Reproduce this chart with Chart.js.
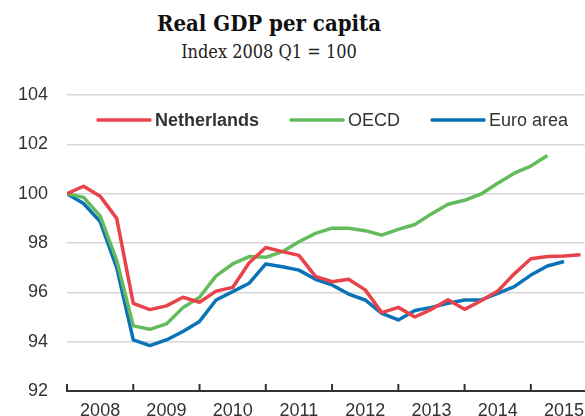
<!DOCTYPE html>
<html>
<head>
<meta charset="utf-8">
<script src="https://cdn.jsdelivr.net/npm/chart.js@4/dist/chart.umd.min.js"></script>
<style>
  html, body { margin: 0; padding: 0; background: #fff; overflow: hidden; }
  #wrap { position: relative; width: 585px; height: 416px; }
  #title { position: absolute; left: 0; top: 10px; width: 538px; text-align: center;
           font-family: 'DejaVu Serif Condensed', 'DejaVu Serif', serif; font-weight: bold; font-size: 22px; color: #111; }
  #subtitle { position: absolute; left: 0; top: 41px; width: 538px; text-align: center;
              font-family: 'DejaVu Serif Condensed', 'DejaVu Serif', serif; font-size: 18px; color: #222; }
  canvas { position: absolute; left: 0; top: 0; }
</style>
</head>
<body>
<div id="wrap">
  <div id="title">Real GDP per capita</div>
  <div id="subtitle">Index 2008 Q1 = 100</div>
  <canvas id="gdpChart" width="585" height="416"></canvas>
</div>
<script>
// quarters 2008 Q1 .. 2015 Q4
const quarters = [
  '2008 Q1', '2008 Q2', '2008 Q3', '2008 Q4',
  '2009 Q1', '2009 Q2', '2009 Q3', '2009 Q4',
  '2010 Q1', '2010 Q2', '2010 Q3', '2010 Q4',
  '2011 Q1', '2011 Q2', '2011 Q3', '2011 Q4',
  '2012 Q1', '2012 Q2', '2012 Q3', '2012 Q4',
  '2013 Q1', '2013 Q2', '2013 Q3', '2013 Q4',
  '2014 Q1', '2014 Q2', '2014 Q3', '2014 Q4',
  '2015 Q1', '2015 Q2', '2015 Q3', '2015 Q4',
];
const netherlands = [
  100.0, 100.3, 99.9, 99.0,
  95.55, 95.3, 95.45, 95.8,
  95.6, 96.05, 96.2, 97.2,
  97.82, 97.65, 97.5, 96.65,
  96.43, 96.53, 96.1, 95.18,
  95.39, 95.0, 95.31, 95.7,
  95.31, 95.66, 96.05, 96.75,
  97.36, 97.45, 97.47, 97.52,
];
const oecd = [
  100.0, 99.85, 99.1, 97.3,
  94.64, 94.5, 94.72, 95.38,
  95.8, 96.67, 97.15, 97.45,
  97.42, 97.65, 98.05, 98.39,
  98.6, 98.6, 98.5, 98.32,
  98.55, 98.75, 99.18, 99.57,
  99.73, 99.99, 100.42, 100.83,
  101.12, 101.55,
];
const euroArea = [
  100.0, 99.6, 98.87, 97.0,
  94.07, 93.84, 94.07, 94.41,
  94.82, 95.69, 96.03, 96.37,
  97.15, 97.04, 96.9, 96.53,
  96.3, 95.93, 95.69, 95.15,
  94.88, 95.26, 95.39, 95.56,
  95.69, 95.69, 95.96, 96.23,
  96.7, 97.07, 97.25,
];
const yTicks = [92, 94, 96, 98, 100, 102, 104];

const toPoints = values => values.map((v, i) => ({ x: i, y: v }));

const tickFont = { family: "'Liberation Sans Narrow', 'Liberation Sans', sans-serif", size: 18 };
const textColor = '#333';

// legend drawn inside the plot area, first entry in bold
const innerLegend = {
  id: 'innerLegend',
  afterDatasetsDraw(chart) {
    const ctx = chart.ctx;
    const area = chart.chartArea;
    const sample = 52, gap = 5, spacing = 32;
    let x = area.left + 31;
    const y = area.top + 25;
    ctx.save();
    chart.data.datasets.forEach((ds, i) => {
      ctx.strokeStyle = ds.borderColor;
      ctx.lineWidth = 3.5;
      ctx.lineCap = 'round';
      ctx.beginPath();
      ctx.moveTo(x, y);
      ctx.lineTo(x + sample, y);
      ctx.stroke();
      ctx.font = (i === 0 ? 'bold ' : '') + tickFont.size + 'px ' + tickFont.family;
      ctx.fillStyle = textColor;
      ctx.textBaseline = 'middle';
      ctx.textAlign = 'left';
      ctx.fillText(ds.label, x + sample + gap, y + 1);
      x += sample + gap + ctx.measureText(ds.label).width + spacing;
    });
    ctx.restore();
  }
};

// year tick marks pointing up from the x axis
const yearTicks = {
  id: 'yearTicks',
  afterDraw(chart) {
    const ctx = chart.ctx;
    const xs = chart.scales.x;
    const bottom = chart.chartArea.bottom;
    ctx.save();
    ctx.strokeStyle = textColor;
    ctx.lineWidth = 2;
    for (let q = 0; q < quarters.length; q += 4) {
      const px = xs.getPixelForValue(q);
      ctx.beginPath();
      ctx.moveTo(px, bottom);
      ctx.lineTo(px, bottom - 7);
      ctx.stroke();
    }
    ctx.restore();
  }
};

new Chart(document.getElementById('gdpChart'), {
  type: 'line',
  data: {
    datasets: [
      { label: 'Netherlands', data: toPoints(netherlands), borderColor: '#e8434b' },
      { label: 'OECD', data: toPoints(oecd), borderColor: '#64bb5c' },
      { label: 'Euro area', data: toPoints(euroArea), borderColor: '#0a73b7' },
    ]
  },
  options: {
    responsive: false,
    animation: false,
    devicePixelRatio: 1,
    layout: { padding: { top: 95, right: 0, left: 0, bottom: 0 } },
    elements: {
      line: { borderWidth: 3.5, tension: 0, borderJoinStyle: 'round', fill: false },
      point: { radius: 0 }
    },
    plugins: {
      legend: { display: false },
      tooltip: { enabled: false }
    },
    scales: {
      x: {
        type: 'linear',
        min: 0,
        max: 31.25,
        afterBuildTicks: scale => {
          const t = [];
          for (let q = 2; q < quarters.length; q += 4) t.push({ value: q });
          scale.ticks = t;
        },
        afterFit: scale => { scale.height = 25; },
        grid: { display: false },
        border: { display: true, color: textColor, width: 2 },
        ticks: {
          autoSkip: false,
          maxRotation: 0,
          padding: 1,
          color: textColor,
          font: tickFont,
          callback: v => quarters[v].slice(0, 4)
        }
      },
      y: {
        min: 92,
        max: 104,
        afterBuildTicks: scale => { scale.ticks = yTicks.map(v => ({ value: v })); },
        afterFit: scale => {
          scale.width = 67;
          scale.paddingTop = 0;
          scale.paddingBottom = 0;
        },
        grid: {
          drawTicks: false,
          lineWidth: 1.5,
          color: c => c.tick && c.tick.value === 92 ? 'rgba(0,0,0,0)' : '#d6d6d6'
        },
        border: { display: false },
        ticks: { padding: 19, color: textColor, font: tickFont }
      }
    }
  },
  plugins: [innerLegend, yearTicks]
});
</script>
</body>
</html>
